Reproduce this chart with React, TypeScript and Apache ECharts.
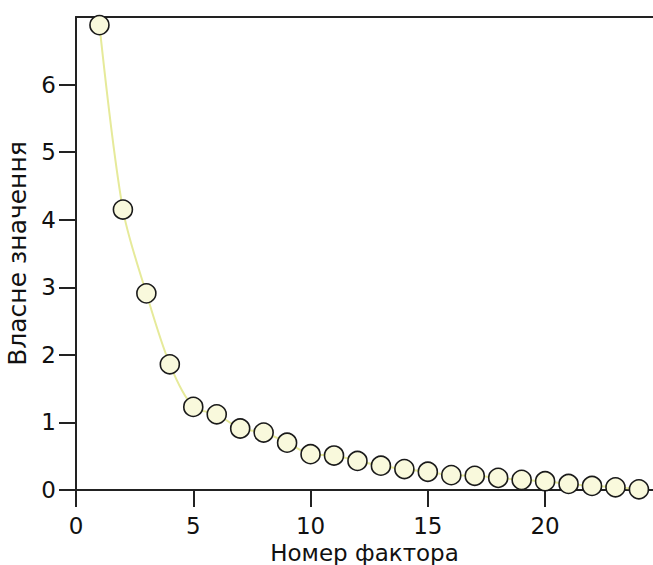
import React, { useEffect, useRef } from "react";
import * as echarts from "echarts";

const factors = [1, 2, 3, 4, 5, 6, 7, 8, 9, 10, 11, 12, 13, 14, 15, 16, 17, 18, 19, 20, 21, 22, 23, 24];
const eigenvalues = [6.88, 4.15, 2.91, 1.86, 1.23, 1.12, 0.91, 0.85, 0.7, 0.53, 0.51, 0.43, 0.36, 0.31, 0.27, 0.22, 0.21, 0.18, 0.15, 0.13, 0.09, 0.06, 0.04, 0.01];
const xTitle = "Номер фактора";
const yTitle = "Власне значення";

export default function App() {
  const ref = useRef<HTMLDivElement>(null);
  useEffect(() => {
    const chart = echarts.init(ref.current!, null, { renderer: "svg" });
    const font = "DejaVu Sans, Verdana, sans-serif";
    chart.setOption({
      animation: false,
      backgroundColor: "#ffffff",
      grid: { left: 76, right: 0, top: 17, bottom: 75, containLabel: false, outerBoundsMode: "none" },
      xAxis: [
        {
          type: "value",
          min: 0,
          max: 24.6,
          interval: 5,
          name: xTitle,
          nameLocation: "middle",
          nameGap: 46,
          nameTextStyle: { fontFamily: font, fontSize: 23, color: "#111" },
          axisLine: { show: true, onZero: false, lineStyle: { color: "#222", width: 2 } },
          axisTick: { show: true, length: 17, lineStyle: { color: "#222", width: 2 } },
          axisLabel: {
            fontFamily: font,
            fontSize: 23,
            color: "#111",
            margin: 24,
            showMaxLabel: false,
          },
          splitLine: { show: false },
        },
        {
          type: "value",
          position: "top",
          min: 0,
          max: 24.6,
          axisLine: { show: true, onZero: false, lineStyle: { color: "#222", width: 2 } },
          axisTick: { show: false },
          axisLabel: { show: false },
          splitLine: { show: false },
        },
      ],
      yAxis: {
        type: "value",
        min: 0,
        max: 7,
        interval: 1,
        name: yTitle,
        nameLocation: "middle",
        nameGap: 43,
        nameRotate: 90,
        nameTextStyle: { fontFamily: font, fontSize: 25, color: "#111" },
        axisLine: { show: true, onZero: false, lineStyle: { color: "#222", width: 2 } },
        axisTick: { show: true, length: 17, lineStyle: { color: "#222", width: 2 } },
        axisLabel: {
          fontFamily: font,
          fontSize: 23,
          color: "#111",
          margin: 20,
          showMaxLabel: false,
        },
        splitLine: { show: false },
      },
      series: [
        {
          type: "line",
          data: factors.map((f, i) => [f, eigenvalues[i]]),
          smooth: 0.3,
          symbol: "circle",
          symbolSize: 19,
          lineStyle: { color: "#e6ea9a", width: 2 },
          itemStyle: { color: "#f9f9dc", borderColor: "#1a1a1a", borderWidth: 1.6 },
          clip: false,
        },
      ],
    });
    return () => chart.dispose();
  }, []);
  return <div ref={ref} style={{ position: "fixed", left: 0, top: 0, width: 653, height: 565 }} />;
}
